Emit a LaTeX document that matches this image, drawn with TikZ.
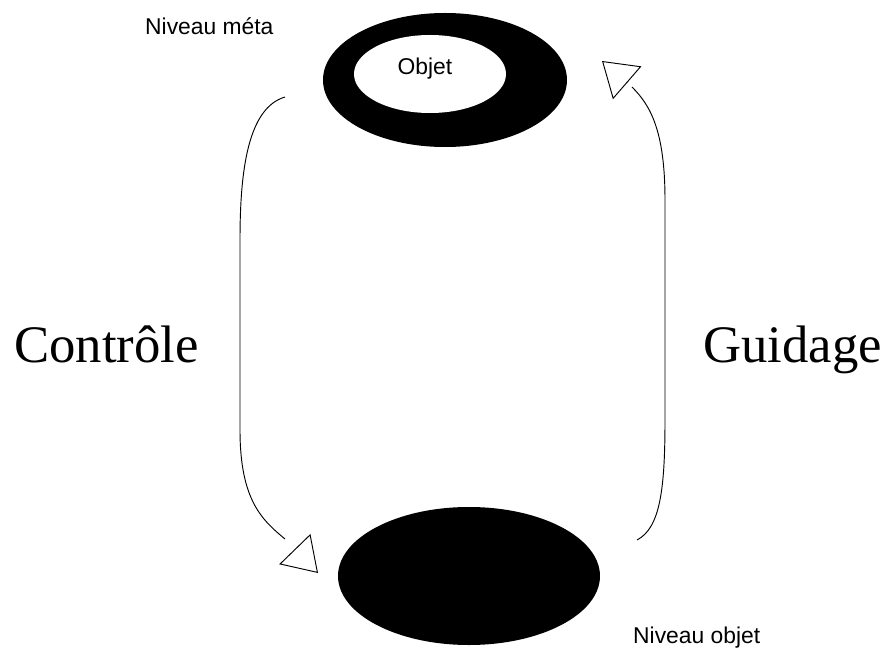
\documentclass[tikz,border=0pt]{standalone}
\usepackage{fontspec}
\setmainfont{Liberation Serif}
\setsansfont{Liberation Sans}
\usetikzlibrary{arrows.meta}
\usetikzlibrary{calc}
\usetikzlibrary{shapes.geometric}
\tikzset{>=latex}
\colorlet{mydark}{black}

\begin{document}
\begin{tikzpicture}[
    x=0.03cm,y=-0.03cm,
    level/.style={ellipse,fill=mydark,inner sep=0pt},
    hole/.style={ellipse,fill=white,inner sep=0pt},
    lvltext/.style={font=\sffamily\fontsize{19.5}{22}\selectfont,inner sep=0pt},
    bigtext/.style={font=\rmfamily\fontsize{45}{50}\selectfont,inner sep=0pt},
    feedback/.style={mydark,line width=0.8pt,
      -{Triangle[open,length=1.0cm,width=1.3cm,line width=0.8pt]}},
  ]

  \useasboundingbox (0,0) rectangle (885,648);

  % LEVELS
  \node[level,minimum width=7.32cm,minimum height=4.02cm] (meta) at (445,80) {};
  \node[hole,minimum width=4.56cm,minimum height=2.34cm] (obj) at (430,74) {};
  \node[lvltext,anchor=base] (objtxt) at (425,75) {Objet};
  \node[level,minimum width=7.86cm,minimum height=4.14cm] (niv) at (469,576) {};

  \node[lvltext,anchor=base west] (metatxt) at (145,35) {Niveau méta};
  \node[lvltext,anchor=base west] (nivtxt) at (633,643) {Niveau objet};

  % LOOPS
  \coordinate (ctrlA) at (285,97);
  \coordinate (ctrlE) at (285,539);
  \coordinate (ctrlB) at (318,573);
  \coordinate (guidA) at (637,540);
  \coordinate (guidE) at (632,87);
  \coordinate (guidB) at (602,61);
  % arrow tips sit a little apart from the line end
  \draw[feedback] (ctrlA) .. controls (248,108) and (240,170) .. (240,240)
    -- (240,430) .. controls (240,500) and (262,520) .. (ctrlE)
    ($(ctrlB)!1cm!(ctrlE)$) -- (ctrlB);
  \draw[feedback] (guidA) .. controls (660,528) and (665,490) .. (665,420)
    -- (665,200) .. controls (665,130) and (650,105) .. (guidE)
    ($(guidB)!1cm!(guidE)$) -- (guidB);

  \node[bigtext,anchor=base west] (ctrl) at (14,362) {Contrôle};
  \node[bigtext,anchor=base west] (guid) at (703,362) {Guidage};

\end{tikzpicture}
\end{document}
